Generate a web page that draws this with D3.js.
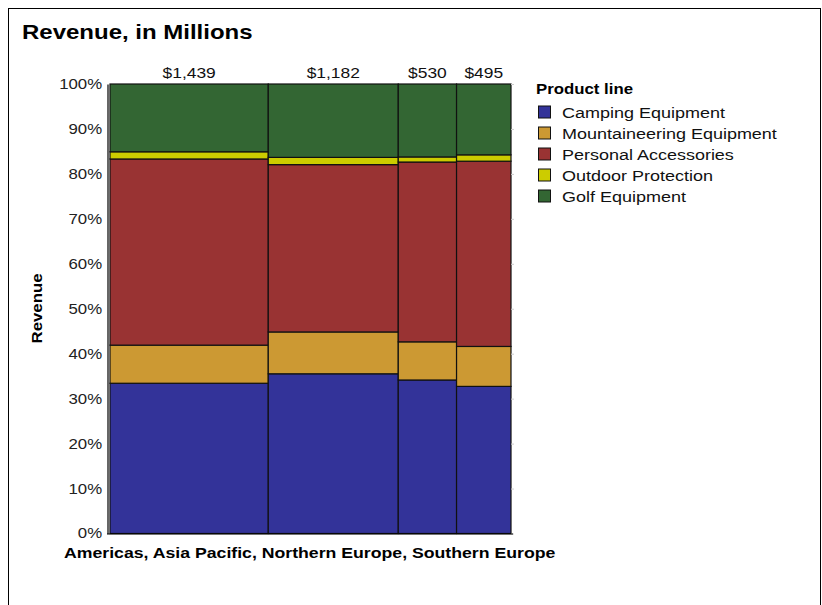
<!DOCTYPE html>
<html>
<head>
<meta charset="utf-8">
<script src="https://cdn.jsdelivr.net/npm/d3@7"></script>
<style>
  html, body { margin: 0; padding: 0; background: #fff; }
  svg { display: block; font-family: "Liberation Sans", Arial, Helvetica, sans-serif; }
</style>
</head>
<body>
<svg id="chart" width="822" height="605"></svg>
<script>
// ---- data (revenue in millions) ----
const regions = ["Americas", "Asia Pacific", "Northern Europe", "Southern Europe"];
const productLines = ["Camping Equipment", "Mountaineering Equipment", "Personal Accessories", "Outdoor Protection", "Golf Equipment"];
const camping        = [481, 420, 181, 162];
const mountaineering = [122, 110,  45,  44];
const personal       = [596, 440, 212, 204];
const outdoor        = [ 23,  19,   6,   7];
const golf           = [217, 193,  86,  78];
const yTickValues = [0, 0.1, 0.2, 0.3, 0.4, 0.5, 0.6, 0.7, 0.8, 0.9, 1.0];
const colors = ["#333399", "#CC9933", "#993333", "#CCCC00", "#336633"];
const titleText = "Revenue, in Millions";
const yTitle = "Revenue";
const xTitle = "Americas, Asia Pacific, Northern Europe, Southern Europe";
const legendTitle = "Product line";

const series = [camping, mountaineering, personal, outdoor, golf];
const totals = regions.map((r, i) => d3.sum(series, s => s[i]));

const svg = d3.select("#chart");
const SX = 1.2; // horizontal glyph stretch of the original renderer

function txt(parent, x, y, s, o = {}) {
  const g = parent.append("g")
    .attr("transform", `translate(${x},${y}) rotate(${o.rotate || 0}) scale(${o.sx || SX},1)`);
  g.append("text")
    .attr("text-anchor", o.anchor || "start")
    .attr("font-size", o.size || 14)
    .attr("font-weight", o.weight || "normal")
    .attr("fill", o.fill || "#000")
    .text(s);
  return g;
}

// border
svg.append("rect").attr("x", 8.5).attr("y", 8.5).attr("width", 812).attr("height", 700)
  .attr("fill", "none").attr("stroke", "#000").attr("stroke-width", 1);

// title
txt(svg, 22, 39, titleText, { size: 20, weight: "bold" });

// scales
const plotL = 110, plotR = 511, plotT = 84, plotB = 533.5;
const x = d3.scaleLinear().domain([0, d3.sum(totals)]).range([plotL, plotR]);
const y = d3.scaleLinear().domain([0, 1]).range([plotB, plotT]);
const color = d3.scaleOrdinal().domain(productLines).range(colors);

// stacked shares
const starts = [0];
totals.forEach((t, i) => starts.push(starts[i] + t));
const segs = [];
regions.forEach((r, i) => {
  let cum = 0;
  productLines.forEach((p, k) => {
    const share = series[k][i] / totals[i];
    segs.push({ region: r, product: p, x0: starts[i], x1: starts[i + 1], y0: cum, y1: cum + share });
    cum += share;
  });
});

svg.append("g").selectAll("rect").data(segs).join("rect")
  .attr("x", d => x(d.x0))
  .attr("width", d => x(d.x1) - x(d.x0))
  .attr("y", d => y(d.y1))
  .attr("height", d => y(d.y0) - y(d.y1))
  .attr("fill", d => color(d.product))
  .attr("stroke", "#111")
  .attr("stroke-width", 1.2);

// right-side faint ticks
const rightAxis = svg.append("g").attr("transform", `translate(${plotR},0)`)
  .call(d3.axisRight(y).tickValues(yTickValues).tickSize(3).tickFormat(""));
rightAxis.select(".domain").remove();
rightAxis.selectAll("line").attr("stroke", "#ccc");

// left axis
const leftAxis = svg.append("g").attr("transform", `translate(107.5,0)`)
  .call(d3.axisLeft(y).tickValues(yTickValues).tickSize(0).tickSizeOuter(0).tickPadding(4.5)
    .tickFormat(d3.format(".0%")));
leftAxis.select(".domain").attr("stroke", "#000").attr("stroke-width", 1.2);
leftAxis.selectAll("text")
  .attr("font-size", 14)
  .attr("font-family", "'Liberation Sans', Arial, sans-serif")
  .attr("fill", "#222")
  .attr("transform", `scale(${SX},1)`);

// bottom axis line
svg.append("line").attr("x1", 107).attr("x2", 513).attr("y1", plotB + 0.5).attr("y2", plotB + 0.5)
  .attr("stroke", "#000").attr("stroke-width", 1.2);

// total labels
totals.forEach((t, i) => {
  txt(svg, (x(starts[i]) + x(starts[i + 1])) / 2, 78, "$" + d3.format(",")(t), { size: 14.5, anchor: "middle", fill: "#111" });
});

// axis titles
txt(svg, 42, 308.5, yTitle, { size: 14, weight: "bold", anchor: "middle", rotate: -90 });
txt(svg, 64, 558, xTitle, { size: 14.5, weight: "bold", sx: 1.22 });

// legend
txt(svg, 536, 94, legendTitle, { size: 14, weight: "bold" });
productLines.forEach((p, k) => {
  const cy = 112 + k * 21;
  svg.append("rect").attr("x", 538.5).attr("y", cy - 6).attr("width", 12).attr("height", 12)
    .attr("fill", color(p)).attr("stroke", "#111").attr("stroke-width", 1);
  txt(svg, 562, cy + 5.5, p, { size: 15, fill: "#111" });
});
</script>
</body>
</html>
